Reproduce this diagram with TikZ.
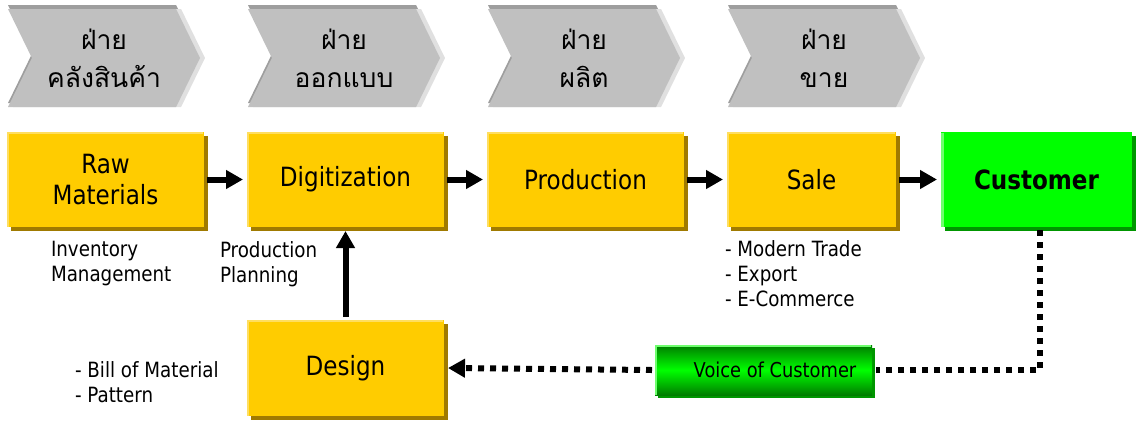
\documentclass[tikz,border=0pt]{standalone}
\usepackage{fontspec}
\setmainfont{DejaVu Sans}[FakeStretch=0.87]
\newfontfamily\thaifont[Script=Thai]{Loma}
\usetikzlibrary{
        arrows.meta,
        positioning,
        shadows,
        shapes.symbols
    }
\definecolor{boxgold}{RGB}{255,204,0}
\definecolor{boxshade}{RGB}{160,122,0}
\definecolor{boxlight}{RGB}{255,222,95}
\definecolor{custgreen}{RGB}{0,255,0}
\definecolor{custshade}{RGB}{0,150,0}
\definecolor{custlight}{RGB}{110,255,110}
\definecolor{vocdark}{RGB}{0,125,0}
\definecolor{chevface}{RGB}{192,192,192}
\definecolor{chevtop}{RGB}{158,158,158}
\definecolor{chevside}{RGB}{224,224,224}
\tikzset{>={Triangle[length=17pt,width=18pt]},shorten >=1pt,node distance=240pt}
\tikzset{
    dept/.style={signal,signal to=east,signal from=west,signal pointer angle=128,
        fill=chevface,minimum width=192pt,minimum height=98pt,inner sep=0pt,
        align=center,font=\thaifont\fontsize{26.5}{38}\selectfont,
        general shadow={shadow yshift=4pt,fill=chevtop},
        general shadow={shadow xshift=5pt,fill=chevside}},
    stage/.style={rectangle,fill=boxgold,minimum width=197pt,minimum height=95pt,
        inner sep=2pt,align=center,font=\fontsize{26.5}{31}\selectfont,
        drop shadow={shadow xshift=4pt,shadow yshift=-4pt,fill=boxshade,opacity=1},
        path picture={\draw[boxlight,line width=4pt]
            (path picture bounding box.south west) -- (path picture bounding box.north west)
            -- (path picture bounding box.north east);}},
    note/.style={anchor=base west,inner sep=0pt,align=left,font=\fontsize{21}{25}\selectfont}
}

\begin{document}
\begin{tikzpicture}[x=1pt,y=-1pt,line width=6pt]
        \useasboundingbox (0,0) rectangle (1138,421);
        \tikzset{flow/.style={->,line width=6pt},
            dotline/.style={line width=6pt,dash pattern=on 6pt off 6pt}}
        % departments
        \node[dept] at (104,58) (d1) {ฝ่าย\\คลังสินค้า};
        \node[dept] (d2) [right of=d1] {ฝ่าย\\ออกแบบ};
        \node[dept] (d3) [right of=d2] {ฝ่าย\\ผลิต};
        \node[dept] (d4) [right of=d3] {ฝ่าย\\ขาย};
        % process
        \node[stage] at (105.5,179.5) (raw) {Raw\\Materials};
        \node[stage] (dig) [right of=raw] {Digitization};
        \node[stage] (prod) [right of=dig] {Production};
        \node[stage,minimum width=169pt] (sale) [right of=prod,node distance=226pt] {Sale};
        \node[stage,minimum width=191pt,fill=custgreen,font=\fontsize{26.5}{31}\selectfont\bfseries,
            drop shadow={shadow xshift=4pt,shadow yshift=-4pt,fill=custshade,opacity=1},
            path picture={\draw[custlight,line width=5pt]
                (path picture bounding box.south west) -- (path picture bounding box.north west);}]
            (cust) [right of=sale,node distance=225pt] {Customer};
        \node[stage,minimum height=96pt] (design) [below of=dig,node distance=188.5pt] {Design};
        \node[rectangle,minimum width=217pt,minimum height=50pt,inner sep=0pt,
            top color=vocdark,bottom color=vocdark,middle color=custgreen,
            font=\fontsize{20.5}{24}\selectfont,
            drop shadow={shadow xshift=3pt,shadow yshift=-3pt,fill=custshade,opacity=1},
            path picture={\draw[custlight,line width=4pt]
                (path picture bounding box.south west) -- (path picture bounding box.north west)
                -- (path picture bounding box.north east);}]
            at (763.5,370) (voc) {\hspace*{23pt}Voice of Customer};
        % notes (anchored at the last line)
        \node[note] at (48,281) (inv) {Inventory\\Management};
        \node[note] at (217,282) (plan) {Production\\Planning};
        \node[note] at (722,306) (chan) {- Modern Trade\\- Export\\- E-Commerce};
        \node[note] at (72,402) (bom) {- Bill of Material\\- Pattern};
        \path[flow]
            (raw) edge (dig)
            (dig) edge (prod)
            (prod) edge (sale)
            (sale) edge (cust)
            (design) edge (dig)
        ;
        \draw[dotline] ([xshift=3.5pt]cust.south) |- (voc.east);
        \draw[dotline,->] (voc.west) -- (design.east);
    \end{tikzpicture}
\end{document}
